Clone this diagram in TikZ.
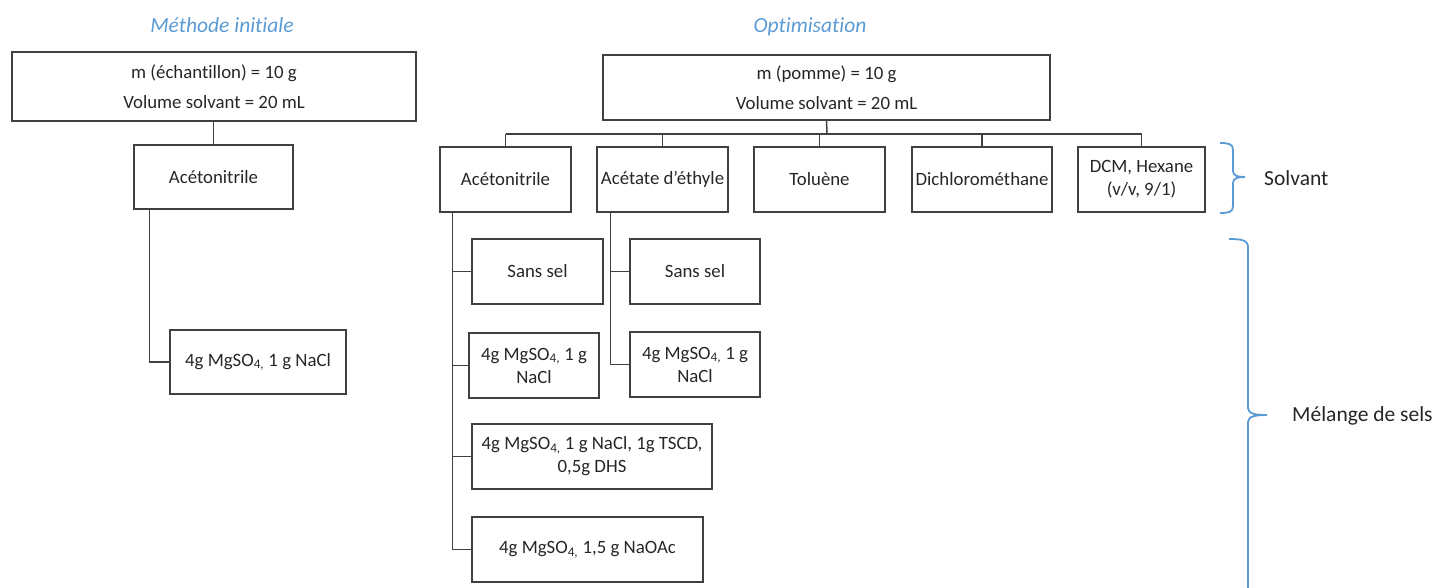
\documentclass[tikz,border=0pt]{standalone}
\usepackage{fontspec}
\setmainfont{Carlito}[Ligatures=CommonOff]
\definecolor{bl}{HTML}{5B9BD5}
\definecolor{ln}{HTML}{404040}
\begin{document}
\begin{tikzpicture}[x=1pt,y=-1pt,
  bx/.style={draw=ln,line width=1.5pt,inner sep=0pt,align=center,font=\fontsize{18.8}{23}\selectfont,text=black!85},
  ttl/.style={text=bl,font=\fontsize{21.5}{24}\selectfont\itshape},
  lbl/.style={anchor=west,inner sep=0pt,text=black!85,font=\fontsize{21.5}{24}\selectfont},
  cn/.style={draw=ln,line width=1.5pt},
  br/.style={draw=bl,line width=1.8pt}]
\useasboundingbox (0,0) rectangle (1438,588);
\clip (0,0) rectangle (1438,588);
% left
\node[ttl] (tl) at (222,25) {Méthode initiale};
\node[bx,minimum width=404pt,minimum height=69pt] (lt) at (214,86.5) {m (échantillon) = 10 g\\[7pt]Volume solvant = 20 mL};
\node[bx,minimum width=159pt,minimum height=64pt] (la) at (213.5,177) {Acétonitrile};
\node[bx,minimum width=176pt,minimum height=64pt] (lm) at (258,362) {4g MgSO\textsubscript{4,} 1 g NaCl};
\draw[cn] (lt.south -| la.north) -- (la.north);
\draw[cn] ([xshift=16pt]la.south west) |- (lm.west);
% right
\node[ttl] (tr) at (810,27) {Optimisation};
\node[bx,minimum width=447pt,minimum height=65pt] (rt) at (826.5,87.5) {m (pomme) = 10 g\\[7pt]Volume solvant = 20 mL};
\node[bx,minimum width=131pt,minimum height=65pt] (s1) at (505.5,179.5) {Acétonitrile};
\node[bx,minimum width=131pt,minimum height=65pt] (s2) at (662.5,179.5) {Acétate d’éthyle};
\node[bx,minimum width=131pt,minimum height=65pt] (s3) at (819.5,179.5) {Toluène};
\node[bx,minimum width=140pt,minimum height=65pt] (s4) at (982,179.5) {Dichlorométhane};
\node[bx,minimum width=127pt,minimum height=65pt] (s5) at (1141.5,179.5) {DCM, Hexane\\(v/v, 9/1)};
\coordinate (bus) at (827,134);
\draw[cn] (rt.south) -- (bus);
\draw[cn] (bus -| s1.north) -- (bus -| s5.north);
\foreach \s in {s1,s2,s3,s4,s5} \draw[cn] (bus -| \s.north) -- (\s.north);
% acetonitrile branch
\node[bx,minimum width=131pt,minimum height=65pt] (a1) at (537.5,271.5) {Sans sel};
\node[bx,minimum width=130pt,minimum height=65pt] (a2) at (534,365.5) {4g MgSO\textsubscript{4,} 1 g\\NaCl};
\node[bx,minimum width=240pt,minimum height=65pt] (a3) at (592,456.5) {4g MgSO\textsubscript{4,} 1 g NaCl, 1g TSCD,\\0,5g DHS};
\node[bx,minimum width=231pt,minimum height=65pt] (a4) at (587.5,549.5) {4g MgSO\textsubscript{4,} 1,5 g NaOAc};
\foreach \b in {a1,a2,a3,a4} \draw[cn] ([xshift=13pt]s1.south west) |- (\b.west);
% acetate branch
\node[bx,minimum width=130pt,minimum height=65pt] (e1) at (695,271.5) {Sans sel};
\node[bx,minimum width=130pt,minimum height=65pt] (e2) at (695,364.5) {4g MgSO\textsubscript{4,} 1 g\\NaCl};
\foreach \b in {e1,e2} \draw[cn] ([xshift=14pt]s2.south west) |- (\b.west);
% braces
\draw[br] (1220,143) .. controls (1229,143) and (1233,144) .. (1233,150) -- (1233,171) .. controls (1233,176) and (1238,177) .. (1245,177) .. controls (1238,177) and (1233,178) .. (1233,183) -- (1233,206) .. controls (1233,212) and (1229,213) .. (1220,213);
\node[lbl] (ls) at (1264,178) {Solvant};
\draw[br] (1229,239) .. controls (1241,239) and (1248,240) .. (1248,247) -- (1248,408) .. controls (1248,414) and (1256,415) .. (1267,415) .. controls (1256,415) and (1248,416) .. (1248,422) -- (1248,600);
\node[lbl] (lms) at (1292,416) {Mélange de sels};
\end{tikzpicture}
\end{document}
